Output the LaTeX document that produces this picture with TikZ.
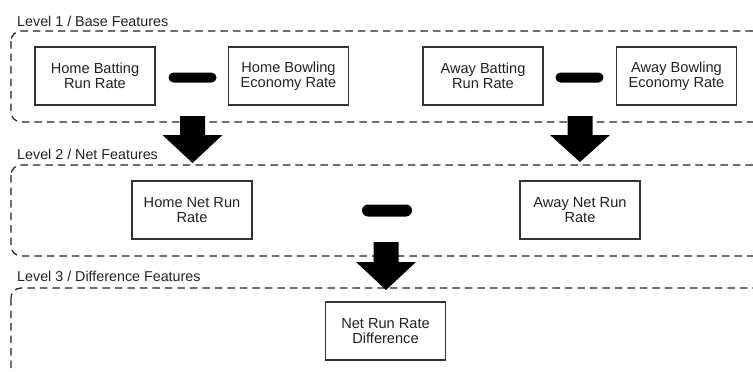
\documentclass[tikz,border=0pt]{standalone}
\usepackage{fontspec}
\setmainfont{Liberation Sans}
\definecolor{ink}{HTML}{222222}
\definecolor{edge}{HTML}{333333}
\newcommand\blkarrow[4]{%
  \fill[black] (#1-12.5,#2) -- (#1+12.5,#2) -- (#1+12.5,#3) -- (#1+30,#3)
    -- (#1,#4) -- (#1-30,#3) -- (#1-12.5,#3) -- cycle;}
\begin{document}
\begin{tikzpicture}[x=1pt,y=-1pt,
  container/.style={draw=ink, line width=1.2pt, dash pattern=on 7.5pt off 5pt, rounded corners=10pt},
  levellabel/.style={anchor=base west, inner sep=0pt, text=ink, font=\fontsize{14.3}{16}\selectfont},
  fbox/.style={draw=edge, line width=1.8pt, minimum width=120pt, minimum height=58pt,
    align=center, text=ink, font=\fontsize{14.6}{15.5}\selectfont, inner sep=0pt},
  minusop/.style={fill=black, minimum width=48pt, minimum height=10pt, rounded corners=5pt, inner sep=0pt}
]
\useasboundingbox (0,0) rectangle (753,372);
\clip (0,0) rectangle (753,372);
\fill[white] (0,0) rectangle (753,372);

% containers
\draw[container] (11,31) rectangle (790,122);
\draw[container] (11,165) rectangle (790,256);
\draw[container] (11,288) rectangle (790,420);

% level labels
\node[levellabel] (l1) at (17,27) {Level 1 / Base Features};
\node[levellabel] (l2) at (17,159) {Level 2 / Net Features};
\node[levellabel] (l3) at (17,281) {Level 3 / Difference Features};

% arrows
\blkarrow{192.5}{116}{135}{163}
\blkarrow{580}{116}{135}{162}
\blkarrow{386}{242}{262}{290}

% level 1
\node[fbox] (hbat) at (95,76) {Home Batting\\Run Rate};
\node[fbox] (hbow) at (288.5,76) {Home Bowling\\Economy Rate};
\node[fbox] (abat) at (483,76) {Away Batting\\Run Rate};
\node[fbox] (abow) at (676.5,76) {Away Bowling\\Economy Rate};
\node[minusop] (m1) at (192.5,77.5) {};
\node[minusop] (m2) at (579.5,77.5) {};

% level 2
\node[fbox] (hnet) at (192,210) {Home Net Run\\Rate};
\node[fbox] (anet) at (580,210) {Away Net Run\\Rate};
\node[minusop, minimum height=12pt, minimum width=50pt, rounded corners=6pt] (m3) at (387,210.5) {};

% level 3
\node[fbox] (diff) at (385.5,331) {Net Run Rate\\Difference};
\end{tikzpicture}
\end{document}
